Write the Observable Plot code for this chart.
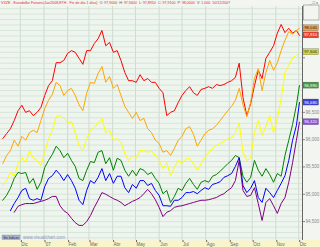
<!DOCTYPE html>
<html><head><meta charset="utf-8">
<script src="https://cdn.jsdelivr.net/npm/d3@7"></script>
<script src="https://cdn.jsdelivr.net/npm/@observablehq/plot@0.6"></script>
<style>html,body{margin:0;padding:0;background:#f2f5f0;} #chart svg{display:block;}</style>
</head><body><div id="chart"></div><script>
// day offsets from 2007-01-01 for each sample
const days = [-54,-49,-44,-39,-34,-29,-24,-19,-14,-9,-4,1,6,11,16,21,26,31,36,41,46,51,56,61,66,71,76,81,86,91,96,101,106,111,116,121,126,131,136,141,146,151,156,161,166,171,176,181,186,191,196,201,206,211,216,221,226,231,236,241,246,251,256,261,266,271,276,281,286,291,296,301,306,311,316,321,326,331,335];

const red = [96.02,96.11,96.20,96.35,96.53,96.63,96.50,96.53,96.44,96.50,
96.59,96.81,96.99,97.08,97.41,97.41,97.45,97.58,97.63,97.60,
97.49,97.38,97.63,97.63,97.76,97.85,98.00,97.72,97.78,97.60,
97.63,97.45,97.23,97.08,97.08,97.05,97.19,97.08,97.12,97.05,
97.05,96.94,96.86,96.44,96.50,96.53,96.68,96.81,96.90,96.97,
96.86,96.81,96.92,96.94,96.97,96.94,97.01,96.99,97.01,97.05,
97.08,97.14,97.40,96.77,96.44,96.66,96.99,97.27,97.12,97.49,
97.60,97.72,97.95,98.11,97.96,98.04,97.95,98.00,97.91];
const orange = [95.56,95.71,95.80,95.99,95.88,96.06,95.99,96.13,96.17,96.13,
96.35,96.57,96.72,96.83,97.05,96.99,96.81,96.90,96.94,96.81,
96.64,96.53,96.85,97.05,97.03,97.21,97.34,97.05,97.16,96.94,
97.01,96.81,96.61,96.50,96.39,96.50,96.35,96.39,96.20,96.13,
95.99,95.93,95.77,95.80,95.71,95.84,95.99,96.06,96.20,96.24,
96.10,95.88,95.99,96.11,96.17,96.20,96.26,96.35,96.44,96.53,
96.61,96.72,96.94,96.64,96.42,96.68,97.12,97.30,96.90,97.23,
97.45,97.27,97.41,97.63,97.82,97.98,97.93,98.00,98.04];
const yellow = [95.16,95.25,95.40,95.33,95.56,95.67,95.58,95.80,95.66,95.62,
95.53,95.77,96.02,96.17,96.42,96.44,96.39,96.31,96.33,96.13,
95.89,95.80,96.02,96.17,96.22,96.31,96.39,96.13,96.17,95.99,
96.02,95.95,95.75,95.62,95.71,95.66,95.80,95.80,95.77,95.80,
95.71,95.62,95.47,95.58,95.34,95.49,95.62,95.56,95.64,95.66,
95.56,95.44,95.56,95.67,95.77,95.84,95.89,95.93,95.97,96.02,
96.04,96.13,96.31,95.77,95.62,95.66,96.13,96.35,96.08,96.24,
96.44,96.13,96.39,96.75,97.23,97.36,97.50,97.54,97.60];
const green = [94.89,94.98,95.11,95.29,95.40,95.38,95.40,95.20,95.29,95.09,
95.22,95.49,95.62,95.73,95.88,95.80,95.67,95.75,95.62,95.51,
95.29,95.25,95.44,95.60,95.58,95.77,95.80,95.56,95.67,95.44,
95.66,95.62,95.44,95.33,95.44,95.34,95.47,95.44,95.36,95.40,
95.29,95.20,95.01,95.07,94.85,94.96,95.11,95.07,95.20,95.29,
95.18,95.09,95.22,95.25,95.22,95.33,95.36,95.42,95.49,95.56,
95.62,95.71,95.67,95.33,95.22,95.31,95.62,95.44,95.33,95.47,
95.36,95.22,95.38,95.33,95.71,95.99,96.28,96.63,96.99];
const blue = [null,null,94.70,94.83,94.94,95.07,95.11,94.92,94.89,94.92,
94.89,95.14,95.29,95.34,95.44,95.36,95.25,95.36,95.25,95.11,
94.89,94.81,95.07,95.25,95.20,95.31,95.47,95.25,95.38,95.20,
95.33,95.33,95.12,95.03,95.18,95.11,95.25,95.25,95.16,95.20,
95.07,94.98,94.79,94.79,94.78,94.89,94.89,94.94,95.03,95.03,
95.05,95.01,95.07,95.12,95.09,95.18,95.20,95.23,95.31,95.34,
95.38,95.51,95.67,95.16,95.03,95.11,95.25,94.94,94.85,95.11,
95.03,94.94,95.07,95.20,95.34,95.62,95.99,96.26,96.68];
const purple = [null,null,null,94.67,94.78,94.81,94.83,94.83,94.83,94.85,
94.87,94.89,94.92,94.96,94.96,94.79,94.70,94.65,94.56,94.48,
94.43,94.43,94.50,94.61,94.76,94.89,95.03,95.00,94.96,94.92,
94.89,94.85,94.79,94.83,94.87,94.90,94.94,95.01,95.09,95.01,
94.90,94.76,94.59,94.67,94.70,94.76,94.78,94.79,94.81,94.83,
94.85,94.87,94.89,94.89,94.90,94.92,94.94,94.98,95.01,95.07,
95.12,95.25,95.62,95.07,94.96,94.98,95.12,94.83,94.52,94.85,
94.92,94.79,94.65,94.83,94.94,95.22,95.58,95.99,96.32];

const seriesNames = ["red","orange","yellow","green","blue","purple"];
const seriesValues = [red, orange, yellow, green, blue, purple];
const seriesColors = ["#e8402f","#f2a24e","#d4da4a","#3f9a3f","#3c3cdc","#8d4ce0"];
const boxText = ["#fff","#222","#222","#fff","#fff","#fff"];

const yTicks = [94.5,95,95.5,96,96.5,97,97.5,98];
const tickDates = ["2006-12-01","2007-01-01","2007-02-01","2007-03-01","2007-04-01","2007-05-01","2007-06-01","2007-07-01","2007-08-01","2007-09-01","2007-10-01","2007-11-01","2007-12-01"];
const monthLabels = ["Dic","'07","Feb","Mar","Abr","May","Jun","Jul","Ago","Sep","Oct","Nov","Dic"];

const base = new Date(2007,0,1);
const dates = days.map(d => d3.timeDay.offset(base, d));
const tDates = tickDates.map(s => { const [y,m,d] = s.split("-").map(Number); return new Date(y, m-1, d); });
const labelOf = new Map(tDates.map((d,i) => [d.getTime(), monthLabels[i]]));
const xStart = new Date(2006,10,5), xEnd = new Date(2007,11,6);
const fmt = v => d3.format(".3f")(v).replace(".", ",");
const gridYTicks = d3.range(942, 985).map(k => k/10);
const lastVals = seriesValues.map(v => v[v.length-1]);
// tick labels hidden behind the last-value boxes
const hidden = v => lastVals.some(l => Math.abs(l - v) < 0.1);

const table = [];
seriesNames.forEach((name,k) => seriesValues[k].forEach((v,i) => {
  if (v != null) table.push({date: dates[i], value: v, series: name});
}));

const plot = Plot.plot({
  width: 320, height: 247,
  marginLeft: 0, marginRight: 18, marginTop: 6, marginBottom: 7,
  style: {background: "#f2f5f0", fontFamily: "Liberation Sans, Arial, sans-serif", fontSize: "5px"},
  x: {type: "time", domain: [xStart, xEnd]},
  y: {domain: [94.153, 98.439]},
  color: {domain: seriesNames, range: seriesColors},
  marks: [
    Plot.frame({fill: "#eef4ee", stroke: null}),
    Plot.gridY(gridYTicks, {stroke: "#d9e5d9", strokeOpacity: 1}),
    Plot.gridX(tDates, {stroke: "#cfdccf", strokeOpacity: 1}),
    Plot.line(table, {x: "date", y: "value", z: "series", stroke: "series", strokeWidth: 1}),
    Plot.ruleX([xEnd], {stroke: "#666"}),
    Plot.axisY(yTicks, {anchor: "right", tickSize: 2, tickPadding: 1, tickFormat: v => hidden(v) ? "" : fmt(v), fontSize: 4.5, color: "#888", label: null}),
    Plot.axisX(tDates, {anchor: "bottom", tickSize: 2, tickPadding: 0, tickFormat: d => labelOf.get(d.getTime()), textAnchor: "start", dx: 1, fontSize: 4.5, color: "#666", label: null})
  ]
});

const svg = d3.select(plot);
svg.insert("rect", ":first-child").attr("x",0).attr("y",240).attr("width",320).attr("height",7).attr("fill","#f9f5c9");
const ys = plot.scale("y");
const g = svg.append("g").attr("text-anchor","middle");
seriesNames.forEach((name,k) => {
  const last = lastVals[k];
  const y = ys.apply(last);
  g.append("rect").attr("x",303).attr("y",y-3).attr("width",15.5).attr("height",6).attr("fill",seriesColors[k]).attr("stroke","#555").attr("stroke-width",0.3);
  g.append("text").attr("x",310.7).attr("y",y+1.6).attr("font-size",4.2).attr("fill",boxText[k]).text(fmt(last));
});
// title line
const title = svg.append("text").attr("x",1).attr("y",4).attr("text-anchor","start").attr("font-size",3.6).attr("fill","#d83030");
title.append("tspan").text("VXZE - Eurodollar Futures(Jan2008,ETH - Fin de día 1 días)  ");
[["O: ","97,9000"],["H: ","97,9400"],["L: ","97,8950"],["C: ","97,9100"],["P: ","98,0000"],["V: ","1,000"],["","10/12/2007"]].forEach(([a,b]) => {
  title.append("tspan").attr("fill","#555").text(a);
  title.append("tspan").attr("fill","#d83030").text(b + "  ");
});
// top-right pane box
svg.append("rect").attr("x",303.5).attr("y",5).attr("width",15.5).attr("height",15).attr("fill","none").attr("stroke","#888").attr("stroke-width",0.6);
svg.append("text").attr("x",318).attr("y",4).attr("text-anchor","end").attr("font-size",4).attr("fill","#666").text("_ □ x");
// bottom-left button + site
svg.append("rect").attr("x",2).attr("y",235).attr("width",18).attr("height",4.5).attr("fill","#a8b4cc").attr("stroke","#6a7a9a").attr("stroke-width",0.3);
svg.append("text").attr("x",11).attr("y",238.6).attr("text-anchor","middle").attr("font-size",3.2).attr("fill","#223").text("Sin Índices");
svg.append("text").attr("x",23).attr("y",239).attr("text-anchor","start").attr("font-size",4.5).attr("fill","#8a96b8").text("www.visualchart.com");

document.getElementById("chart").appendChild(plot);
</script></body></html>
